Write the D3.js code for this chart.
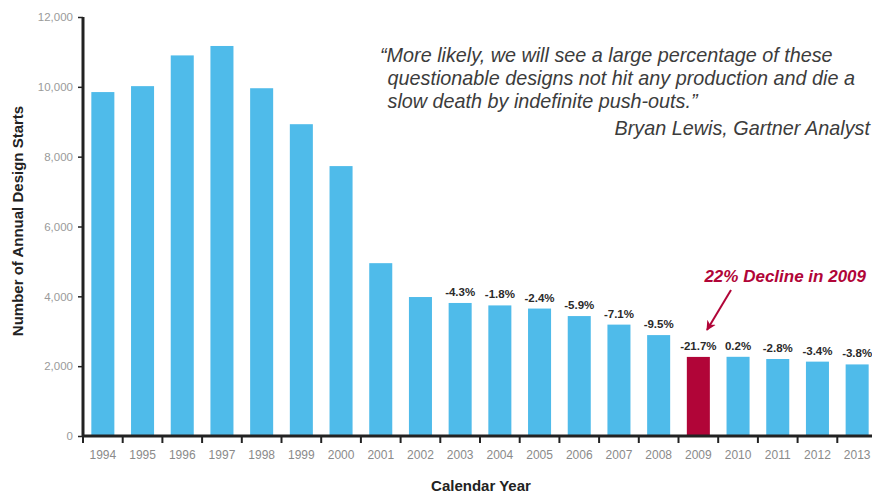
<!DOCTYPE html>
<html><head><meta charset="utf-8">
<script src="https://cdn.jsdelivr.net/npm/d3@7"></script>
<style>body{margin:0;background:#fff}svg{display:block}</style>
</head><body>
<svg id="c" width="872" height="495"></svg>
<script>
const years = ["1994","1995","1996","1997","1998","1999","2000","2001","2002","2003","2004","2005","2006","2007","2008","2009","2010","2011","2012","2013"];
const starts = [9850,10020,10900,11170,9960,8930,7730,4950,3980,3810,3740,3650,3435,3190,2890,2265,2268,2205,2130,2050];
const changeLabels = ["","","","","","","","","","-4.3%","-1.8%","-2.4%","-5.9%","-7.1%","-9.5%","-21.7%","0.2%","-2.8%","-3.4%","-3.8%"];
const yTicks = [0,2000,4000,6000,8000,10000,12000];
const highlightYear = "2009";
const quoteLines = ["\u201CMore likely, we will see a large percentage of these"," questionable designs not hit any production and die a"," slow death by indefinite push-outs.\u201D"];
const quoteAuthor = "Bryan Lewis, Gartner Analyst";
const calloutText = "22% Decline in 2009";

const svg = d3.select("#c");
const x = d3.scaleBand().domain(years).range([83, 877]).paddingInner(0.42).paddingOuter(0.21);
const y = d3.scaleLinear().domain([0, 12000]).range([436, 17]);

const font = "'Liberation Sans', Arial, Helvetica, sans-serif";

// bars
svg.append("g").selectAll("rect").data(years).join("rect")
  .attr("x", d => x(d)).attr("width", x.bandwidth())
  .attr("y", (d,i) => y(starts[i])).attr("height", (d,i) => y(0) - y(starts[i]))
  .attr("fill", d => d === highlightYear ? "#b10538" : "#4fbbea");

// change labels
svg.append("g").selectAll("text").data(years).join("text")
  .attr("x", d => x(d) + x.bandwidth()/2)
  .attr("y", (d,i) => y(starts[i]) - 7)
  .attr("text-anchor", "middle")
  .attr("font-family", font).attr("font-weight", "bold").attr("font-size", 11.5)
  .attr("fill", "#2a2a2a")
  .text((d,i) => changeLabels[i]);

// y axis
const yAxis = d3.axisLeft(y).tickValues(yTicks).tickFormat(d3.format(",")).tickSize(5).tickPadding(5);
const gy = svg.append("g").attr("transform", "translate(83,0)").call(yAxis);
gy.select(".domain").attr("stroke", "#222").attr("stroke-width", 3).attr("d", "M0,17V437");
gy.selectAll(".tick line").attr("stroke", "#222").attr("stroke-width", 1.5);
gy.selectAll(".tick text").attr("font-family", font).attr("font-size", 11.5).attr("fill", "#9a9a9a");

// x axis
const xAxis = d3.axisBottom(x).tickSize(0).tickPadding(14);
const gx = svg.append("g").attr("transform", "translate(0,436)").call(xAxis);
gx.select(".domain").attr("stroke", "#222").attr("stroke-width", 3).attr("d", "M82,0H872");
gx.selectAll(".tick text").attr("font-family", font).attr("font-size", 12).attr("fill", "#8a8a8a");
// boundary ticks between bands
const bounds = years.map(d => x(d) - x.step()*x.paddingInner()/2);
svg.append("g").selectAll("line").data(bounds).join("line")
  .attr("x1", d => d).attr("x2", d => d).attr("y1", 436).attr("y2", 443)
  .attr("stroke", "#222").attr("stroke-width", 2);

// axis titles
svg.append("text").attr("transform", "translate(23,221) rotate(-90)")
  .attr("text-anchor", "middle").attr("font-family", font).attr("font-weight", "bold")
  .attr("font-size", 15).attr("fill", "#222").text("Number of Annual Design Starts");
svg.append("text").attr("x", 481).attr("y", 491)
  .attr("text-anchor", "middle").attr("font-family", font).attr("font-weight", "bold")
  .attr("font-size", 15).attr("fill", "#222").text("Calendar Year");

// quote
const qx = [380, 382, 382];
const qy = [62, 85, 108];
svg.append("g").selectAll("text").data(quoteLines).join("text")
  .attr("x", (d,i) => qx[i]).attr("y", (d,i) => qy[i])
  .attr("font-family", font).attr("font-style", "italic").attr("font-size", 19.8)
  .attr("fill", "#3c3c3c").attr("xml:space", "preserve").style("white-space", "pre")
  .text(d => d);
svg.append("text").attr("x", 870).attr("y", 135).attr("text-anchor", "end")
  .attr("font-family", font).attr("font-style", "italic").attr("font-size", 19.8)
  .attr("fill", "#3c3c3c").text(quoteAuthor);

// callout
svg.append("text").attr("x", 866).attr("y", 282).attr("text-anchor", "end")
  .attr("font-family", font).attr("font-style", "italic").attr("font-weight", "bold")
  .attr("font-size", 17).attr("fill", "#b10538").text(calloutText);
svg.append("defs").append("marker").attr("id", "ah").attr("viewBox", "0 0 10 10")
  .attr("refX", 9).attr("refY", 5).attr("markerWidth", 5).attr("markerHeight", 5)
  .attr("orient", "auto").attr("markerUnits", "strokeWidth")
  .append("path").attr("d", "M0,0L10,5L0,10L3,5z").attr("fill", "#b10538");
svg.append("line").attr("x1", 731).attr("y1", 290).attr("x2", 707).attr("y2", 330)
  .attr("stroke", "#b10538").attr("stroke-width", 2).attr("marker-end", "url(#ah)");
</script>
</body></html>
